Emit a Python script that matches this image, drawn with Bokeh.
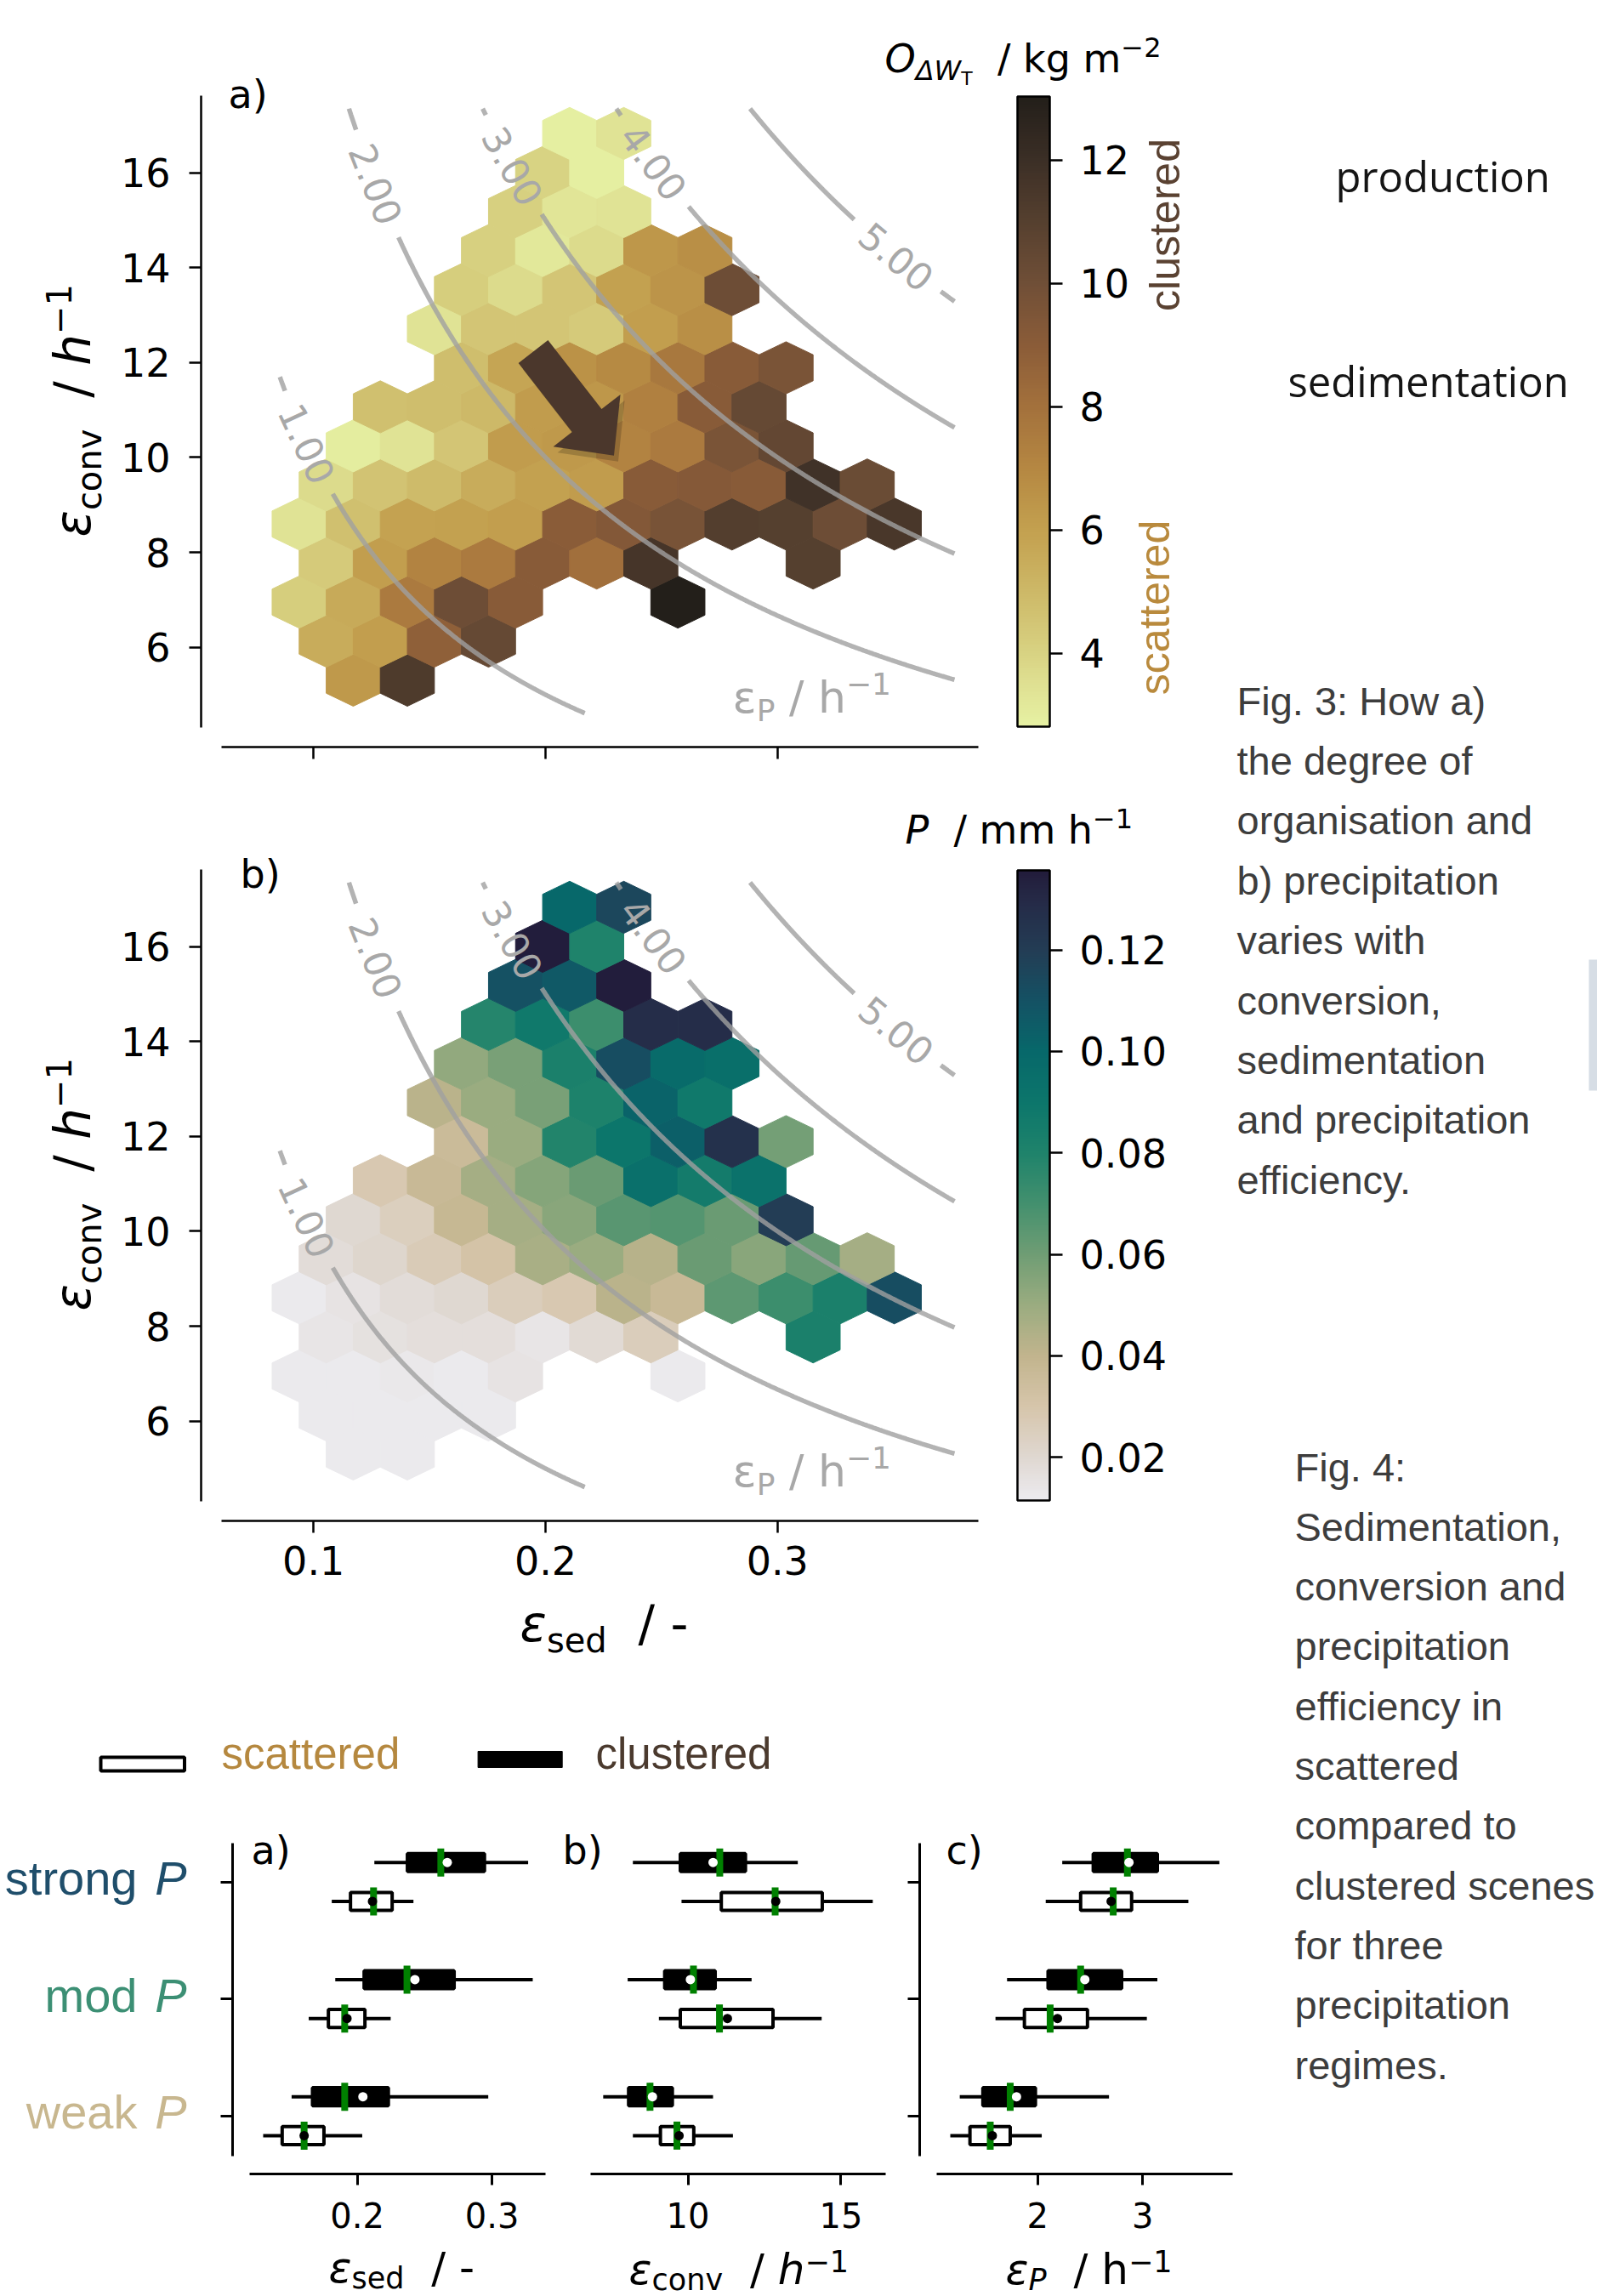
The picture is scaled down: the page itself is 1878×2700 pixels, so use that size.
import numpy as np
from bokeh.plotting import figure
from bokeh.models import (Range1d, FixedTicker, PrintfTickFormatter, LinearColorMapper,
                          ColorBar, Label, BoxAnnotation, ColumnDataSource)
from bokeh.layouts import column, row
from bokeh.transform import transform
from bokeh.embed import file_html
from bokeh.resources import INLINE

# ============================ DATA ============================
# contour levels of precipitation efficiency eps_P = eps_sed * eps_conv
EPS_P_LEVELS = [1.0, 2.0, 3.0, 4.0, 5.0]
EPS_P_LABEL_SED = [0.0972, 0.1269, 0.1859, 0.2466, 0.3513]   # where the level labels sit
CONTOUR_SED_LIMITS = (0.0855, 0.3763)
CONTOUR_CONV_LIMITS = (4.61, 17.35)

# hexbin lattice: eps_sed = HEX_SED0 + HEX_SED_STEP*col ; eps_conv = HEX_CONV0 + HEX_CONV_STEP*row
HEX_SED0, HEX_SED_STEP = 0.0938, 0.011661
HEX_CONV0, HEX_CONV_STEP = 5.305, 0.823

hex_cols_by_row = {
    0: [2, 4],
    1: [1, 3, 5, 7],
    2: [0, 2, 4, 6, 8, 14],
    3: [1, 3, 5, 7, 9, 11, 13, 19],
    4: [0, 2, 4, 6, 8, 10, 12, 14, 16, 18, 20, 22],
    5: [1, 3, 5, 7, 9, 11, 13, 15, 17, 19, 21],
    6: [2, 4, 6, 8, 10, 12, 14, 16, 18],
    7: [3, 5, 7, 9, 11, 13, 15, 17],
    8: [6, 8, 10, 12, 14, 16, 18],
    9: [5, 7, 9, 11, 13, 15],
    10: [6, 8, 10, 12, 14, 16],
    11: [7, 9, 11, 13, 15],
    12: [8, 10, 12],
    13: [9, 11],
    14: [10, 12],
}
# a) degree of organisation O_dWT / kg m-2
org_by_row = {
    0: [6.3, 11.3],
    1: [5.5, 6.1, 8.8, 10.4],
    2: [4.2, 5.6, 7.6, 10.1, 9.1, 13.0],
    3: [4.3, 6.1, 7.2, 7.6, 9.1, 8.1, 11.6, 11.0],
    4: [3.4, 4.7, 5.9, 6.0, 6.1, 9.0, 9.3, 9.7, 11.1, 11.0, 10.1, 11.5],
    5: [3.7, 4.6, 4.9, 5.5, 6.0, 6.2, 9.1, 9.2, 9.1, 11.8, 10.2],
    6: [3.0, 3.4, 4.5, 6.2, 6.3, 7.2, 7.6, 9.6, 10.5],
    7: [4.7, 4.8, 5.0, 6.2, 6.4, 7.3, 9.1, 10.4],
    8: [4.8, 5.8, 6.6, 6.9, 7.7, 9.1, 9.6],
    9: [3.4, 4.5, 4.5, 4.3, 6.1, 6.7],
    10: [4.2, 3.7, 4.5, 6.0, 6.5, 10.1],
    11: [4.1, 3.2, 3.7, 6.4, 6.7],
    12: [4.1, 3.3, 3.4],
    13: [4.0, 2.9],
    14: [2.9, 3.4],
}
# b) precipitation P / mm h-1
precip_by_row = {
    0: [0.012, 0.012],
    1: [0.012, 0.012, 0.012, 0.012],
    2: [0.012, 0.012, 0.013, 0.012, 0.015, 0.012],
    3: [0.014, 0.016, 0.017, 0.017, 0.014, 0.019, 0.026, 0.082],
    4: [0.012, 0.015, 0.018, 0.020, 0.026, 0.028, 0.042, 0.037, 0.064, 0.072, 0.082, 0.112],
    5: [0.018, 0.021, 0.027, 0.031, 0.046, 0.050, 0.043, 0.061, 0.054, 0.062, 0.047],
    6: [0.020, 0.025, 0.038, 0.047, 0.054, 0.065, 0.066, 0.061, 0.120],
    7: [0.028, 0.037, 0.047, 0.055, 0.061, 0.094, 0.086, 0.093],
    8: [0.036, 0.050, 0.079, 0.090, 0.104, 0.126, 0.059],
    9: [0.042, 0.050, 0.058, 0.081, 0.102, 0.088],
    10: [0.052, 0.058, 0.082, 0.112, 0.098, 0.095],
    11: [0.078, 0.088, 0.072, 0.128, 0.128],
    12: [0.110, 0.107, 0.135],
    13: [0.135, 0.080],
    14: [0.100, 0.115],
}
ORG_RANGE = (2.81, 13.03)
PRECIP_RANGE = (0.0115, 0.1357)
ORG_TICKS = [4, 6, 8, 10, 12]
PRECIP_TICKS = [0.02, 0.04, 0.06, 0.08, 0.10, 0.12]
ORG_STOPS = [(2.81, "#e6f1a3"), (3.5, "#dfe092"), (4.0, "#d8d282"), (5.0, "#cdb867"),
             (6.0, "#c3a04f"), (7.0, "#b58742"), (8.0, "#a3713c"), (9.0, "#8b5c38"),
             (10.0, "#704f37"), (11.0, "#56402f"), (12.0, "#3c2f26"), (13.03, "#231f1a")]
PRECIP_STOPS = [(0.0115, "#ecebef"), (0.02, "#dfd7d0"), (0.03, "#d6c5aa"), (0.04, "#c1b48d"),
                (0.05, "#9aac80"), (0.06, "#6f9d74"), (0.07, "#43906e"), (0.08, "#1f836b"),
                (0.09, "#0c766b"), (0.10, "#07686a"), (0.11, "#145264"), (0.12, "#233d55"),
                (0.13, "#252a47"), (0.1357, "#221c3b")]

# arrow (direction of increasing organisation) in (eps_sed, eps_conv)
ARROW_TAIL = (0.1947, 12.23)
ARROW_TIP = (0.2295, 10.04)

# box plots: regimes strong / mod / weak P
regimes = ["strong", "mod", "weak"]
regime_colors = ["#1f4e6b", "#3c8f74", "#c8b78f"]
sed_clustered = dict(lo=[0.2127, 0.1837, 0.1513], q1=[0.2372, 0.2051, 0.1668], med=[0.2620, 0.2369, 0.1907],
                     q3=[0.2944, 0.2719, 0.2231], hi=[0.3268, 0.3302, 0.2972], mean=[0.2668, 0.2428, 0.2042])
sed_scattered = dict(lo=[0.1811, 0.1640, 0.1302], q1=[0.1950, 0.1786, 0.1443], med=[0.2121, 0.1907, 0.1606],
                     q3=[0.2259, 0.2057, 0.1753], hi=[0.2417, 0.2248, 0.2037], mean=[0.2113, 0.1924, 0.1606])
conv_clustered = dict(lo=[8.20, 8.03, 7.23], q1=[9.75, 9.24, 8.06], med=[11.04, 10.18, 8.76],
                      q3=[11.88, 10.89, 9.49], hi=[13.59, 12.08, 10.82], mean=[10.82, 10.08, 8.84])
conv_scattered = dict(lo=[9.79, 9.05, 8.20], q1=[11.09, 9.75, 9.10], med=[12.85, 11.03, 9.64],
                      q3=[14.39, 12.78, 10.19], hi=[16.04, 14.37, 11.47], mean=[12.87, 11.29, 9.71])
epsp_clustered = dict(lo=[2.235, 1.71, 1.26], q1=[2.53, 2.10, 1.48], med=[2.855, 2.41, 1.74],
                      q3=[3.14, 2.80, 1.98], hi=[3.73, 3.14, 2.68], mean=[2.87, 2.45, 1.80])
epsp_scattered = dict(lo=[2.078, 1.60, 1.17], q1=[2.41, 1.875, 1.357], med=[2.72, 2.12, 1.55],
                      q3=[2.895, 2.475, 1.74], hi=[3.435, 3.04, 2.04], mean=[2.70, 2.19, 1.57])

FIG3_LINES = ["Fig. 3: How a)", "the degree of", "organisation and", "b) precipitation",
              "varies with", "conversion,", "sedimentation", "and precipitation", "efficiency."]
FIG4_LINES = ["Fig. 4:", "Sedimentation,", "conversion and", "precipitation", "efficiency in",
              "scattered", "compared to", "clustered scenes", "for three", "precipitation", "regimes."]

# ============================ HELPERS ============================
DJ = "DejaVu Sans"
LIB = "Liberation Sans"
OPEN = "Open Sans"
MID = 0.35   # distance (in em) from the alphabetic baseline up to the text middle
DV = {' ': 0.318, '/': 0.337, '-': 0.361, '\u2212': 0.838, '.': 0.318, ')': 0.390, '(': 0.390,
      'a': 0.613, 'c': 0.550, 'd': 0.635, 'e': 0.615, 'g': 0.635, 'h': 0.634, 'k': 0.579,
      'm': 0.974, 'n': 0.634, 'o': 0.612, 's': 0.521, 'v': 0.592, 'P': 0.603, 'O': 0.787,
      'W': 0.989, 'T': 0.611, '\u0394': 0.684, '\u03b5': 0.541}


def dv_width(s, size):
    return size * sum(DV.get(ch, 0.636 if ch.isdigit() else 0.6) for ch in s)


def lerp_palette(stops, n=256):
    vals = np.array([s[0] for s in stops])
    cols = np.array([[int(c[i:i + 2], 16) for i in (1, 3, 5)] for _, c in stops], float)
    out = []
    for v in np.linspace(vals[0], vals[-1], n):
        r, g, b = (np.interp(v, vals, cols[:, j]) for j in range(3))
        out.append("#%02x%02x%02x" % (int(round(r)), int(round(g)), int(round(b))))
    return out


class Geo:
    """page-pixel <-> data conversion for a figure frame"""
    def __init__(self, fl, fr, ft, fb, xr, yr):
        self.fl, self.fr, self.ft, self.fb = fl, fr, ft, fb
        self.xr, self.yr = xr, yr
        self.kx = (fr - fl) / (xr[1] - xr[0])
        self.ky = (fb - ft) / (yr[1] - yr[0])

    def x(self, px):
        return self.xr[0] + (px - self.fl) / self.kx

    def y(self, py):
        return self.yr[0] + (self.fb - py) / self.ky

    def px(self, x):
        return self.fl + (np.asarray(x) - self.xr[0]) * self.kx

    def py(self, y):
        return self.fb - (np.asarray(y) - self.yr[0]) * self.ky


REGIONS = []


def make_fig(x0, y0, w, h, frame, xr=None, yr=None, axes=True):
    fl, fr, ft, fb = frame
    if xr is None:
        xr = (fl, fr)
    if yr is None:
        yr = (fb, ft)
    kw = {}
    if not axes:
        kw = dict(x_axis_location=None, y_axis_location=None)
    p = figure(width=w, height=h, x_range=Range1d(*xr), y_range=Range1d(*yr),
               min_border_left=int(fl - x0), min_border_right=int(x0 + w - fr),
               min_border_top=int(ft - y0), min_border_bottom=int(y0 + h - fb),
               output_backend="svg", toolbar_location=None, **kw)
    p.outline_line_color = None
    p.xgrid.visible = False
    p.ygrid.visible = False
    p.background_fill_color = "white"
    p.border_fill_color = "white"
    geo = Geo(fl, fr, ft, fb, xr, yr)
    REGIONS.append((p, geo))
    return p, geo


def find_region(px, py):
    for p, geo in REGIONS:
        if geo.fl <= px <= geo.fr and geo.ft <= py <= geo.fb:
            return p, geo
    raise ValueError((px, py))


def page_label(px, py, text, size, font=DJ, color="black", style="normal", align="left", angle=0.0):
    """(px, py) = start of the alphabetic baseline in page pixels"""
    p, geo = find_region(px, py)
    a = np.deg2rad(angle)
    ux, uy = -np.sin(a), -np.cos(a)
    x = px + MID * size * ux
    y = py + MID * size * uy
    p.add_layout(Label(x=geo.x(x), y=geo.y(y), text=text, text_font=font,
                       text_font_size=f"{size}px", text_color=color, text_font_style=style,
                       text_align=align, text_baseline="middle", angle=angle, angle_units="deg"))


def rich(px, py, parts, angle=0.0, color="black", font=DJ):
    p, geo = find_region(px, py)
    a = np.deg2rad(angle)
    dxv, dyv = np.cos(a), -np.sin(a)
    ux, uy = -np.sin(a), -np.cos(a)
    pos = 0.0
    for text, size, rise, style in parts:
        lead = len(text) - len(text.lstrip(' '))
        pos += dv_width(' ' * lead, size)
        core = text.strip(' ')
        up = rise + MID * size
        x = px + pos * dxv + up * ux
        y = py + pos * dyv + up * uy
        p.add_layout(Label(x=geo.x(x), y=geo.y(y), text=core, angle=angle, angle_units="deg",
                           text_font=font, text_font_size=f"{size}px", text_font_style=style,
                           text_color=color, text_align="left", text_baseline="middle"))
        pos += dv_width(text.lstrip(' '), size)


def style_axis(ax, size, standoff, tick=14, width=2.5):
    ax.axis_line_width = width
    ax.axis_line_color = "black"
    ax.major_tick_line_width = width
    ax.major_tick_line_color = "black"
    ax.major_tick_out = tick
    ax.major_tick_in = 0
    ax.minor_tick_line_color = None
    ax.major_label_text_font = DJ
    ax.major_label_text_font_size = f"{size}px"
    ax.major_label_standoff = standoff
    ax.major_label_text_color = "black"


# ============================ HEX PANELS ============================
HEX_XR = (0.051540, 0.496921)
HEX_W = 2 * HEX_SED_STEP
HEX_SY = 2 * HEX_CONV_STEP
hex_sed, hex_conv, hex_org, hex_prec = [], [], [], []
for r in sorted(hex_cols_by_row):
    for c, o, pr in zip(hex_cols_by_row[r], org_by_row[r], precip_by_row[r]):
        hex_sed.append(HEX_SED0 + HEX_SED_STEP * c)
        hex_conv.append(HEX_CONV0 + HEX_CONV_STEP * r)
        hex_org.append(o)
        hex_prec.append(pr)
OX = np.array([0.5, 0.5, 0.0, -0.5, -0.5, 0.0]) * HEX_W
OY = np.array([-0.5, 0.5, 1.0, 0.5, -0.5, -1.0]) * HEX_SY / 3.0
hex_xs = [list(cx + OX) for cx in hex_sed]
hex_ys = [list(cy + OY) for cy in hex_conv]

org_mapper = LinearColorMapper(palette=lerp_palette(ORG_STOPS), low=ORG_RANGE[0], high=ORG_RANGE[1])
prec_mapper = LinearColorMapper(palette=lerp_palette(PRECIP_STOPS), low=PRECIP_RANGE[0], high=PRECIP_RANGE[1])

LEFT_W = 1451
STRIP_W = 136
XLAB_TOP = 1872


def hex_panel(y0, h, ft, fb, yr, values, mapper, show_xlabels):
    p, geo = make_fig(STRIP_W, y0, LEFT_W - STRIP_W, h, (236, LEFT_W, ft, fb), HEX_XR, yr)
    src = ColumnDataSource(dict(xs=hex_xs, ys=hex_ys, v=values))
    p.patches("xs", "ys", source=src, fill_color=transform("v", mapper),
              line_color=transform("v", mapper), line_width=1)
    cx_all, cy_all = [], []
    for lev, lab_x in zip(EPS_P_LEVELS, EPS_P_LABEL_SED):
        xs = np.linspace(max(CONTOUR_SED_LIMITS[0], lev / CONTOUR_CONV_LIMITS[1]),
                         min(CONTOUR_SED_LIMITS[1], lev / CONTOUR_CONV_LIMITS[0]), 600)
        ys = lev / xs
        spx, spy = geo.px(xs), geo.py(ys)
        s = np.concatenate([[0], np.cumsum(np.hypot(np.diff(spx), np.diff(spy)))])
        lpx, lpy = geo.px(lab_x), geo.py(lev / lab_x)
        s_lab = s[np.argmin(np.hypot(spx - lpx, spy - lpy))]
        for keep in (s < s_lab - 66, s > s_lab + 66):
            if keep.sum() > 1:
                cx_all.append(list(xs[keep]))
                cy_all.append(list(ys[keep]))
        slope = (lev / lab_x ** 2) * abs(geo.ky) / geo.kx
        ang = -np.degrees(np.arctan(slope))
        p.add_layout(Label(x=lab_x, y=lev / lab_x, text=f"{lev:.2f}", angle=ang, angle_units="deg",
                           text_font=DJ, text_font_size="44px", text_color="#a8a8a8",
                           text_align="center", text_baseline="middle"))
    p.multi_line(cx_all, cy_all, line_color="#a0a0a0", line_alpha=0.8, line_width=5.5)
    p.xaxis.ticker = FixedTicker(ticks=[0.1, 0.2, 0.3])
    p.xaxis.formatter = PrintfTickFormatter(format="%.1f")
    p.yaxis.ticker = FixedTicker(ticks=[6, 8, 10, 12, 14, 16])
    style_axis(p.xaxis[0], 46, 15)
    style_axis(p.yaxis[0], 46, 22)
    p.xaxis.bounds = (0.06034, 0.38658)
    p.yaxis.bounds = (4.31, 17.62)
    if not show_xlabels:
        p.xaxis.major_label_text_font_size = "1px"
        p.xaxis.major_label_text_alpha = 0
    return p, geo


def colorbar(mapper, ticks, fmt):
    return ColorBar(color_mapper=mapper, ticker=FixedTicker(ticks=ticks),
                    formatter=PrintfTickFormatter(format=fmt), orientation="vertical",
                    width=38, height=741, location=(960, 24), padding=0, margin=0,
                    bar_line_color="black", bar_line_width=2.5, border_line_color=None,
                    background_fill_alpha=0, major_tick_in=0, major_tick_out=15,
                    major_tick_line_color="black", major_tick_line_width=2.5,
                    minor_tick_line_color=None, label_standoff=20,
                    major_label_text_font=DJ, major_label_text_font_size="46px",
                    major_label_text_color="black")


# ---------- strips holding texts
p_ystrip, g_ystrip = make_fig(0, 0, STRIP_W, 1973, (0, STRIP_W, 0, 1973), axes=False)
p_right, g_right = make_fig(LEFT_W, 0, 1878 - LEFT_W, 2700, (LEFT_W, 1878, 0, 2700), axes=False)

# ---------- figure a)
p1, g1 = hex_panel(0, 930, 0, 878, (3.8961, 19.6308), hex_org, org_mapper, False)
p1.add_layout(colorbar(org_mapper, ORG_TICKS, "%d"))
tx, ty = g1.px(ARROW_TAIL[0]), g1.py(ARROW_TAIL[1])
hx, hy = g1.px(ARROW_TIP[0]), g1.py(ARROW_TIP[1])
L = np.hypot(hx - tx, hy - ty)
d = np.array([(hx - tx) / L, (hy - ty) / L])
n = np.array([-d[1], d[0]])
T = np.array([tx, ty])
H = np.array([hx, hy])
Hb = H - d * 52
poly = [T + n * 22, Hb + n * 22, Hb + n * 50, H, Hb - n * 50, Hb - n * 22, T - n * 22]
for off, col, alpha in [((5, 7), "#000000", 0.18), ((0, 0), "#4b372c", 1.0)]:
    p1.patch([g1.x(v[0] + off[0]) for v in poly], [g1.y(v[1] + off[1]) for v in poly],
             fill_color=col, fill_alpha=alpha, line_color=None)

# ---------- figure b)
p2, g2 = hex_panel(930, XLAB_TOP - 930, 930, 1788, (3.8961, 19.2724), hex_prec, prec_mapper, True)
p2.add_layout(colorbar(prec_mapper, PRECIP_TICKS, "%.2f"))
p_xlab, g_xlab = make_fig(STRIP_W, XLAB_TOP, LEFT_W - STRIP_W, 1973 - XLAB_TOP,
                          (236, LEFT_W, XLAB_TOP, 1973), axes=False)

for fb_px in (878, 1788):
    rich(106, fb_px - 247, [("\u03b5", 58, 0, "italic"), ("conv", 40, -12, "normal"),
                            ("  / ", 58, 0, "normal"), ("h", 58, 0, "italic"),
                            ("\u22121", 40, 24, "normal")], angle=90)
    rich(861, fb_px - 40, [("\u03b5", 52, 0, "normal"), ("P", 36, -10, "normal"),
                           (" / h", 52, 0, "normal"), ("\u22121", 36, 22, "normal")], color="#a8a8a8")

page_label(268, 127, "a)", 46)
rich(1040, 85, [("O", 46, 0, "italic"), ("\u0394W", 32, -9, "italic"), ("T", 22, -15, "normal"),
                ("  / kg m", 46, 0, "normal"), ("\u22122", 32, 19, "normal")])
page_label(1387, 264, "clustered", 50, font=LIB, color="#5a4232", align="center", angle=90)
page_label(1375, 714, "scattered", 50, font=LIB, color="#b98a3d", align="center", angle=90)
page_label(282, 1044, "b)", 46)
rich(1064, 992, [("P", 46, 0, "italic"), ("  / mm h", 46, 0, "normal"), ("\u22121", 32, 19, "normal")])
rich(611, 1930, [("\u03b5", 58, 0, "italic"), ("sed", 40, -12, "normal"), ("  / -", 58, 0, "normal")])

# ---------- legend band
pl, gl = make_fig(0, 1973, LEFT_W, 142, (0, LEFT_W, 1973, 2115), axes=False)
pl.add_layout(BoxAnnotation(left=118, right=216.5, top=2066, bottom=2082, fill_color="white",
                            fill_alpha=1, line_color="black", line_alpha=1, line_width=4))
pl.add_layout(BoxAnnotation(left=561.6, right=660.7, top=2059, bottom=2078, fill_color="black",
                            fill_alpha=1, line_color="black", line_alpha=1, line_width=1))
page_label(260, 2080, "scattered", 51, font=LIB, color="#b5883f")
page_label(700, 2080, "clustered", 51, font=LIB, color="#4b3a2e")

# ---------- box plots
BOX_YR = (2.49365, -0.70853)
BOX_OFF = 0.166
BOX_ROW_H = 521


def box_panel(x0, w, frame, xr, xbounds, ticks, clu, sca, show_y):
    p, geo = make_fig(x0, 2115, w, BOX_ROW_H, frame, xr, BOX_YR)
    for data, off, fill, dot in [(clu, -BOX_OFF, "black", "white"), (sca, BOX_OFF, "white", "black")]:
        y = list(np.arange(len(regimes)) + off)
        p.segment(x0=data["lo"], y0=y, x1=data["hi"], y1=y, line_color="black", line_width=4)
        p.hbar(y=y, left=data["q1"], right=data["q3"], height=0.153, fill_color=fill,
               line_color="black", line_width=4)
        p.scatter(x=data["med"], y=y, marker="dash", size=33, angle=np.pi / 2,
                  line_color="#008000", line_width=8)
        p.scatter(x=data["mean"], y=y, marker="circle", size=11, fill_color=dot, line_color=None)
    p.xaxis.ticker = FixedTicker(ticks=ticks)
    style_axis(p.xaxis[0], 40, 20, tick=13, width=3)
    p.xaxis.bounds = xbounds
    p.yaxis.ticker = FixedTicker(ticks=[0, 1, 2])
    style_axis(p.yaxis[0], 1, 0, tick=14, width=3)
    p.yaxis.major_label_text_alpha = 0
    p.yaxis.bounds = (-0.331, 2.344)
    if not show_y:
        p.yaxis.visible = False
    return p, geo


p_cat, g_cat = make_fig(0, 2115, 235, BOX_ROW_H, (0, 235, 2115, 2556), (0, 235), BOX_YR, axes=False)
pa, ga = box_panel(235, 420, (273, 641, 2115, 2556), (0.107508, 0.339685), (0.12044, 0.339685),
                   [0.2, 0.3], sed_clustered, sed_scattered, True)
pa.xaxis.formatter = PrintfTickFormatter(format="%.1f")
pb, gb = box_panel(655, 390, (658, 1041, 2115, 2556), (5.8171, 16.4619), (6.8066, 16.4619),
                   [10, 15], conv_clustered, conv_scattered, False)
pc, gc = box_panel(1045, LEFT_W - 1045, (1081, 1449, 2115, 2556), (0.87864, 3.85599), (1.0405, 3.85599),
                   [2, 3], epsp_clustered, epsp_scattered, True)
p_blab, g_blab = make_fig(0, 2115 + BOX_ROW_H, LEFT_W, 2700 - 2115 - BOX_ROW_H,
                          (0, LEFT_W, 2115 + BOX_ROW_H, 2700), axes=False)

page_label(295, 2192, "a)", 46)
page_label(661, 2192, "b)", 46)
page_label(1112, 2192, "c)", 46)
for i, (name, col) in enumerate(zip(regimes, regime_colors)):
    py = float(ga.py(i)) + 15
    page_label(161, py, name, 56, font=LIB, color=col, align="right")
    page_label(219, py, "P", 56, font=LIB, color=col, style="italic", align="right")
rich(386, 2684, [("\u03b5", 50, 0, "italic"), ("sed", 35, -7, "normal"), ("  / -", 50, 0, "normal")])
rich(739, 2686, [("\u03b5", 50, 0, "italic"), ("conv", 35, -7, "normal"), ("  / ", 50, 0, "normal"),
                 ("h", 50, 0, "italic"), ("\u22121", 35, 15, "normal")])
rich(1182, 2686, [("\u03b5", 50, 0, "italic"), ("P", 35, -7, "italic"), ("  / h", 50, 0, "normal"),
                  ("\u22121", 35, 15, "normal")])

# ---------- right strip texts
page_label(1570, 224, "production", 49, font=OPEN, color="#151515")
page_label(1514, 465, "sedimentation", 49, font=OPEN, color="#151515")
for i, t in enumerate(FIG3_LINES):
    page_label(1454, 840 + 70.4 * i, t, 47, font=LIB, color="#3d3d3d")
for i, t in enumerate(FIG4_LINES):
    page_label(1522, 1741 + 70.3 * i, t, 47, font=LIB, color="#3d3d3d")
p_right.add_layout(BoxAnnotation(left=1868, right=1878, top=1128, bottom=1282,
                                 fill_color="#d6dde5", fill_alpha=1, line_color=None))

hexcol = column(p1, p2, p_xlab)
left = column(row(p_ystrip, hexcol), pl, row(p_cat, pa, pb, pc), p_blab)
layout = row(left, p_right)
open("out.html", "w").write(file_html(layout, INLINE, title="Fig 3 and Fig 4"))
